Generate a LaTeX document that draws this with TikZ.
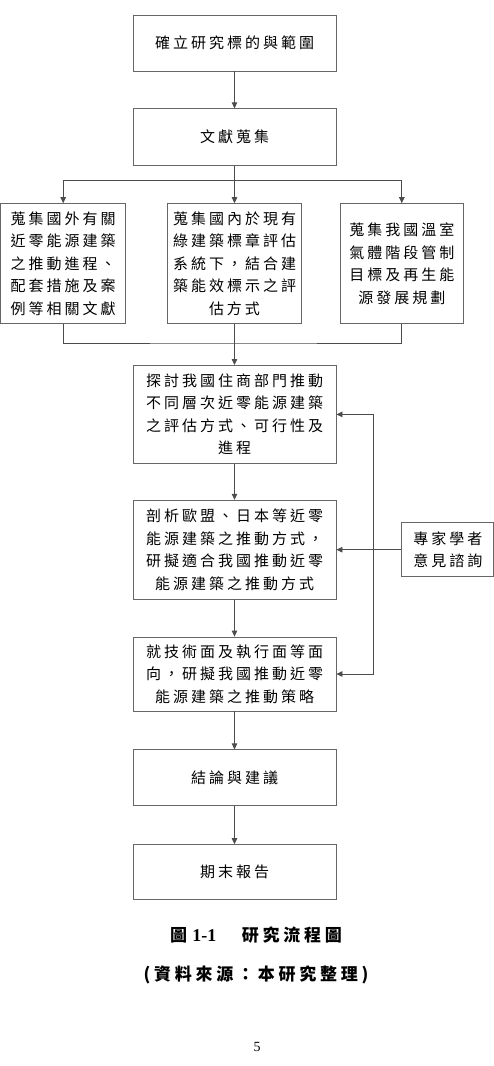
\documentclass[tikz,border=0pt]{standalone}
\usepackage{fontspec}
\setmainfont{Liberation Serif}
\newfontfamily\cjk[LetterSpace=20]{Noto Sans CJK TC}
\newfontfamily\cjkcap[LetterSpace=22]{Noto Sans CJK TC}
\usepackage{tikz}
\usetikzlibrary{positioning, arrows.meta, calc}

\begin{document}
\begin{tikzpicture}[
        node distance = 37pt and 40pt,
        stage/.style = {draw=black!60, line width=0.8pt, minimum width=203pt, align=center, inner sep=2pt, font=\cjk\fontsize{15pt}{22.5pt}\selectfont},
        source/.style = {stage, minimum height=120pt},
        arrow/.style = {-{Triangle[length=6pt, width=5.5pt]}, line width=0.8pt, black!70},
        link/.style = {line width=0.8pt, black!70},
        caption/.style = {font=\cjkcap\fontsize{17pt}{20pt}\selectfont\bfseries},
    ]
        \useasboundingbox (0,0) rectangle (494pt,-1066pt);
        \node[stage, minimum height=56pt] at (234.5pt,-43pt) (s1) {確立研究標的與範圍};
        \node[stage, minimum height=57pt, below=of s1] (s2) {文獻蒐集};
        \node[source, minimum width=134pt, below=of s2] (s3b) {蒐集國內於現有\\綠建築標章評估\\系統下，結合建\\築能效標示之評\\估方式};
        \node[source, minimum width=125pt, left=41pt of s3b] (s3a) {蒐集國外有關\\近零能源建築\\之推動進程、\\配套措施及案\\例等相關文獻};
        \node[source, minimum width=123pt, right=38pt of s3b] (s3c) {蒐集我國溫室\\氣體階段管制\\目標及再生能\\源發展規劃};
        \node[stage, minimum height=98pt, below=41pt of s3b] (s4) {探討我國住商部門推動\\不同層次近零能源建築\\之評估方式、可行性及\\進程};
        \node[stage, minimum height=99pt, below=36pt of s4] (s5) {剖析歐盟、日本等近零\\能源建築之推動方式，\\研擬適合我國推動近零\\能源建築之推動方式};
        \node[stage, minimum height=74pt, below=of s5] (s6) {就技術面及執行面等面\\向，研擬我國推動近零\\能源建築之推動策略};
        \node[stage, minimum height=56pt, below=38pt of s6] (s7) {結論與建議};
        \node[stage, minimum height=55pt, below=38pt of s7] (s8) {期末報告};
        \node[stage, minimum width=92pt, minimum height=54pt, right=65pt of s5] (expert) {專家學者\\意見諮詢};

        \node[caption] at (256pt,-935pt) (cap1) {圖\hspace{0.3em}{\rmfamily\bfseries\fontsize{18pt}{20pt}\selectfont 1-1}\hspace{1.5em}研究流程圖};
        \node[caption] at (256pt,-975pt) (cap2) {(資料來源：本研究整理)};
        \node[font=\fontsize{14pt}{16pt}\selectfont] at (257pt,-1047pt) (page) {5};

        \draw[arrow] (s1) -- (s2);
        \coordinate (split) at ($(s2.south)+(0,-14pt)$);
        \draw[link] (s2.south) -- (split);
        \draw[arrow] (split) -| (s3a.north);
        \draw[arrow] (split) -- (s3b.north);
        \draw[arrow] (split) -| (s3c.north);
        \coordinate (join) at ($(s3b.south)+(0,-19pt)$);
        \draw[link] (s3a.south) |- (join) -| (s3c.south);
        \draw[arrow] (s3b.south) -- (s4.north);
        \draw[arrow] (s4) -- (s5);
        \draw[arrow] (s5) -- (s6);
        \draw[arrow] (s6) -- (s7);
        \draw[arrow] (s7) -- (s8);
        \draw[arrow] (expert) -- (s5);
        \draw[arrow, {Triangle[length=6pt, width=5.5pt]}-{Triangle[length=6pt, width=5.5pt]}] (s4.east) -- ++(37pt,0) |- (s6.east);
    \end{tikzpicture}
\end{document}
